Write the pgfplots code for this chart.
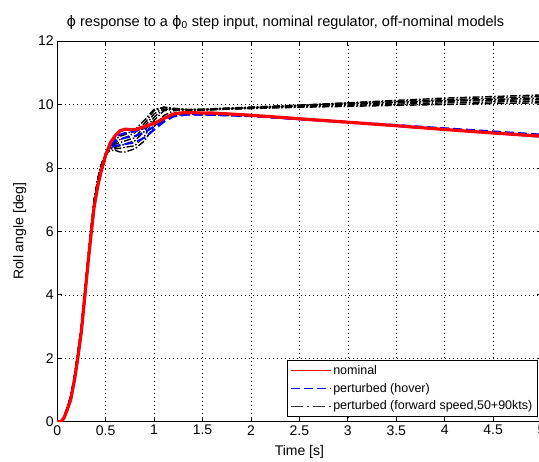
\documentclass[border=0pt]{standalone}
\usepackage{pgfplots}
\pgfplotsset{compat=1.18}
\usepackage{fontspec}
\setmainfont{Liberation Sans}
\newfontfamily\dejavu{DejaVu Sans}

\tikzset{
  fwd/.style={black, line width=1.4pt, dash pattern=on 7pt off 2pt on 1.5pt off 2pt},
  hov/.style={blue, line width=2pt, dash pattern=on 9pt off 4pt},
  nom/.style={red, line width=3.2pt},
}

\begin{document}
\begin{tikzpicture}
\begin{axis}[
  scale only axis, width=484.4pt, height=380.7pt,
  xmin=0, xmax=5, ymin=0, ymax=12,
  xtick={0,0.5,...,5}, ytick={0,2,...,12},
  xticklabels={0,0.5,1,1.5,2,2.5,3,3.5,4,4.5,5},
  tick align=inside, major tick length=5pt,
  tick style={black, line width=0.8pt},
  axis line style={line width=0.8pt},
  xmajorgrids, ymajorgrids,
  grid style={black, line width=0.6pt, dash pattern=on 1pt off 3pt},
  font=\fontsize{12.5}{14}\selectfont,
  tick label style={font=\fontsize{14}{16}\selectfont},
  /pgf/number format/assume math mode=true,
  title={{\dejavu ϕ} response to a {\dejavu ϕ}\textsubscript{0} step input, nominal regulator, off-nominal models},
  title style={font=\fontsize{14.5}{16}\selectfont, yshift=2pt, xshift=-14pt},
  xlabel={Time [s]}, ylabel={Roll angle [deg]},
  xlabel style={font=\fontsize{14}{16}\selectfont, yshift=-3pt},
  ylabel style={font=\fontsize{14}{16}\selectfont, yshift=5pt},
  legend style={at={(0.992,0.013)}, anchor=south east, draw=black, line width=0.8pt,
    font=\fontsize{12.5}{14}\selectfont, row sep=3pt, inner xsep=3pt, inner ysep=3pt},
  legend image code/.code={\draw[#1, line width=1pt] (0pt,0pt) -- (40pt,0pt);},
  legend cell align=left,
]
% forward speed models
\addplot[fwd, forget plot] coordinates {(0,0) (0.04,0) (0.07,0.15) (0.1,0.4) (0.14,0.8) (0.18,1.45) (0.21,2.1) (0.25,3.0) (0.28,3.95) (0.33,5.5) (0.38,6.95) (0.42,7.65) (0.45,8.05) (0.5,8.45)
 (0.55,8.7) (0.6,8.9) (0.65,9.0) (0.7,9.05) (0.8,9.2) (0.9,9.5) (1.0,9.85) (1.1,9.9) (1.2,9.86) (1.35,9.83) (1.5,9.82) (2,9.88) (2.5,9.91) (3,9.94) (3.5,9.97) (4,10.0) (4.5,10.03) (5,10.05)};
\addplot[fwd, forget plot] coordinates {(0,0) (0.04,0) (0.07,0.15) (0.1,0.4) (0.14,0.8) (0.18,1.45) (0.21,2.1) (0.25,3.0) (0.28,3.95) (0.33,5.5) (0.38,6.95) (0.42,7.65) (0.45,8.05) (0.5,8.45)
 (0.55,8.65) (0.6,8.75) (0.65,8.8) (0.7,8.85) (0.8,8.95) (0.9,9.3) (1.0,9.7) (1.1,9.9) (1.2,9.86) (1.35,9.83) (1.5,9.82) (2,9.9) (2.5,9.95) (3,10.0) (3.5,10.05) (4,10.1) (4.5,10.13) (5,10.15)};
\addplot[fwd, forget plot] coordinates {(0,0) (0.04,0) (0.07,0.15) (0.1,0.4) (0.14,0.8) (0.18,1.45) (0.21,2.1) (0.25,3.0) (0.28,3.95) (0.33,5.5) (0.38,6.95) (0.42,7.65) (0.45,8.05) (0.5,8.45)
 (0.55,8.6) (0.6,8.6) (0.65,8.62) (0.7,8.65) (0.8,8.7) (0.9,9.0) (1.0,9.5) (1.1,9.8) (1.2,9.85) (1.35,9.84) (1.5,9.85) (2,9.9) (2.5,9.97) (3,10.05) (3.5,10.1) (4,10.15) (4.5,10.2) (5,10.25)};
\addplot[fwd, forget plot] coordinates {(0,0) (0.04,0) (0.07,0.15) (0.1,0.4) (0.14,0.8) (0.18,1.45) (0.21,2.1) (0.25,3.0) (0.28,3.95) (0.33,5.5) (0.38,6.95) (0.42,7.65) (0.45,8.05) (0.5,8.45)
 (0.55,8.55) (0.6,8.55) (0.65,8.5) (0.7,8.5) (0.8,8.6) (0.9,8.85) (1.0,9.3) (1.1,9.65) (1.2,9.8) (1.35,9.83) (1.5,9.85) (2,9.92) (2.5,9.98) (3,10.05) (3.5,10.13) (4,10.2) (4.5,10.25) (5,10.3)};
\addplot[fwd, forget plot] coordinates {(0,0) (0.04,0) (0.07,0.15) (0.1,0.4) (0.14,0.8) (0.18,1.45) (0.21,2.1) (0.25,3.0) (0.28,3.95) (0.33,5.5) (0.38,6.95) (0.42,7.65) (0.45,8.05) (0.5,8.45)
 (0.55,8.68) (0.6,8.8) (0.65,8.9) (0.7,8.95) (0.8,9.1) (0.9,9.4) (1.0,9.8) (1.1,9.92) (1.2,9.88) (1.35,9.84) (1.5,9.83) (2,9.87) (2.5,9.92) (3,9.97) (3.5,10.01) (4,10.05) (4.5,10.08) (5,10.1)};
\addplot[fwd, forget plot] coordinates {(0,0) (0.04,0) (0.07,0.15) (0.1,0.4) (0.14,0.8) (0.18,1.45) (0.21,2.1) (0.25,3.0) (0.28,3.95) (0.33,5.5) (0.38,6.95) (0.42,7.65) (0.45,8.05) (0.5,8.45)
 (0.55,8.62) (0.6,8.65) (0.65,8.7) (0.7,8.75) (0.8,8.85) (0.9,9.15) (1.0,9.6) (1.1,9.85) (1.2,9.85) (1.35,9.84) (1.5,9.84) (2,9.9) (2.5,9.96) (3,10.02) (3.5,10.07) (4,10.12) (4.5,10.16) (5,10.2)};
% hover models
\addplot[hov, forget plot] coordinates {(0,0) (0.04,0) (0.07,0.12) (0.1,0.35) (0.14,0.7) (0.18,1.35) (0.21,1.95) (0.25,2.85) (0.28,3.8) (0.33,5.35) (0.38,6.75) (0.42,7.45) (0.45,7.85) (0.5,8.4)
 (0.55,8.75) (0.6,8.95) (0.65,9.05) (0.7,9.1) (0.8,9.15) (0.9,9.25) (1.0,9.4) (1.1,9.55) (1.2,9.66) (1.35,9.7) (1.5,9.68) (2,9.63) (2.5,9.53) (3,9.43) (3.5,9.32) (4,9.21) (4.5,9.1) (5,8.98)};
\addplot[hov, forget plot] coordinates {(0,0) (0.04,0) (0.07,0.12) (0.1,0.35) (0.14,0.7) (0.18,1.35) (0.21,1.95) (0.25,2.85) (0.28,3.8) (0.33,5.35) (0.38,6.75) (0.42,7.45) (0.45,7.85) (0.5,8.4)
 (0.55,8.7) (0.6,8.85) (0.65,8.9) (0.7,8.95) (0.8,9.0) (0.9,9.12) (1.0,9.3) (1.1,9.5) (1.2,9.64) (1.35,9.69) (1.5,9.69) (2,9.65) (2.5,9.55) (3,9.45) (3.5,9.35) (4,9.25) (4.5,9.15) (5,9.05)};
\addplot[hov, forget plot] coordinates {(0,0) (0.04,0) (0.07,0.12) (0.1,0.35) (0.14,0.7) (0.18,1.35) (0.21,1.95) (0.25,2.85) (0.28,3.8) (0.33,5.35) (0.38,6.75) (0.42,7.45) (0.45,7.85) (0.5,8.4)
 (0.55,8.65) (0.6,8.7) (0.65,8.72) (0.7,8.75) (0.8,8.8) (0.9,8.95) (1.0,9.2) (1.1,9.45) (1.2,9.62) (1.35,9.68) (1.5,9.68) (2,9.64) (2.5,9.54) (3,9.44) (3.5,9.34) (4,9.23) (4.5,9.12) (5,9.02)};
% nominal
\addplot[nom, forget plot] coordinates {(0,0) (0.04,0) (0.07,0.12) (0.1,0.35) (0.14,0.7) (0.18,1.35) (0.21,1.95) (0.25,2.85) (0.28,3.8) (0.33,5.35) (0.38,6.75) (0.42,7.45) (0.45,7.85) (0.5,8.4)
 (0.55,8.8) (0.6,9.02) (0.65,9.17) (0.7,9.22) (0.75,9.21) (0.8,9.2) (0.9,9.3) (1.0,9.4) (1.07,9.51) (1.15,9.63) (1.2,9.7) (1.3,9.74) (1.6,9.73) (2,9.66) (2.5,9.55) (3,9.44) (3.5,9.33) (4,9.21) (4.5,9.1) (5,9.0)};
\addlegendimage{red}
\addlegendimage{blue, dash pattern=on 9pt off 4pt}
\addlegendimage{black!80, dash pattern=on 12pt off 4pt on 2pt off 4pt}
\legend{nominal, perturbed (hover), {perturbed (forward speed,50+90kts)}}
\end{axis}
\pgfresetboundingbox
\path ([xshift=-57.2pt,yshift=-39.3pt]current axis.south west) rectangle ([xshift=-2.6pt,yshift=41pt]current axis.north east);
\end{tikzpicture}
\end{document}
